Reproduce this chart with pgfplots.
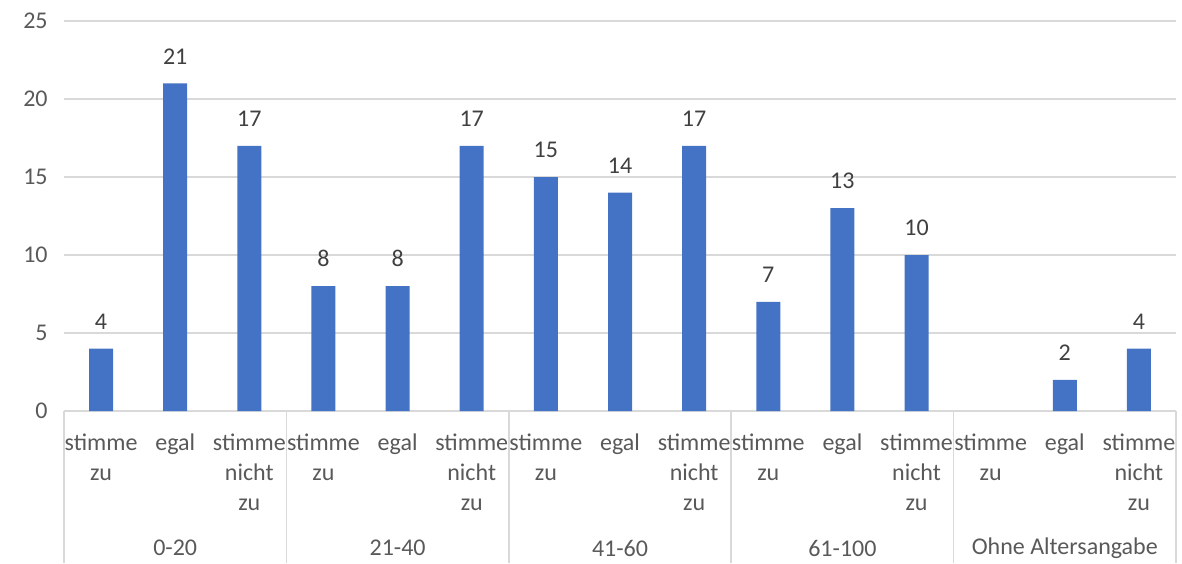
\documentclass[border=0pt]{standalone}
\usepackage{pgfplots}
\pgfplotsset{compat=1.18}
\usepackage{fontspec}
\setmainfont{Carlito}
\definecolor{barblue}{HTML}{4472C4}
\definecolor{gridgray}{HTML}{D9D9D9}
\definecolor{txtgray}{HTML}{595959}
\definecolor{lblgray}{HTML}{404040}
\begin{document}
\begin{tikzpicture}
\begin{axis}[
  at={(0,0)}, anchor=south west,
  scale only axis,
  width=556pt, height=195pt,
  xmin=-0.5, xmax=14.5,
  ymin=0, ymax=25,
  ytick={0,5,10,15,20,25},
  xtick={0,1,2,3,4,5,6,7,8,9,10,11,12,13,14},
  xticklabels={{\strut stimme\\zu},{\strut egal},{\strut stimme\\nicht\\zu},
               {\strut stimme\\zu},{\strut egal},{\strut stimme\\nicht\\zu},
               {\strut stimme\\zu},{\strut egal},{\strut stimme\\nicht\\zu},
               {\strut stimme\\zu},{\strut egal},{\strut stimme\\nicht\\zu},
               {\strut stimme\\zu},{\strut egal},{\strut stimme\\nicht\\zu}},
  xticklabel style={align=center, anchor=north, inner sep=0pt, yshift=-9pt,
    font=\fontsize{12}{15}\selectfont, text=txtgray},
  yticklabel style={anchor=east, inner sep=0pt, xshift=-8pt,
    font=\fontsize{12}{15}\selectfont, text=txtgray},
  /pgf/number format/assume math mode=true,
  major tick length=0pt,
  ymajorgrids, grid style={gridgray, line width=0.8pt},
  axis x line*=bottom, axis y line*=left,
  x axis line style={gridgray, line width=0.8pt, -},
  y axis line style={draw=none},
  clip=false,
  nodes near coords,
  nodes near coords style={anchor=south, inner sep=0pt, yshift=9.5pt,
    font=\fontsize{12}{15}\selectfont, text=lblgray},
]
\addplot[ybar, bar width=12pt, fill=barblue, draw=none, bar shift=0pt]
  coordinates {(0,4) (1,21) (2,17) (3,8) (4,8) (5,17) (6,15) (7,14) (8,17)
               (9,7) (10,13) (11,10) (13,2) (14,4)};
\foreach \xx in {-0.5,2.5,5.5,8.5,11.5,14.5}{
  \edef\temp{\noexpand\draw[gridgray, line width=0.8pt] (axis cs:\xx,0) -- ([yshift=-76pt]axis cs:\xx,0);}
  \temp
}
\foreach \xx/\lab in {1/0-20,4/21-40,7/41-60,10/61-100,13/Ohne Altersangabe}{
  \edef\temp{\noexpand\node[anchor=center, inner sep=0pt, text=txtgray, font=\noexpand\fontsize{12}{15}\noexpand\selectfont] at ([yshift=-68.5pt]axis cs:\xx,0) {\lab};}
  \temp
}
\end{axis}
\pgfresetboundingbox
\path (-32pt,-76pt) rectangle (559pt,205.5pt);
\end{tikzpicture}
\end{document}
